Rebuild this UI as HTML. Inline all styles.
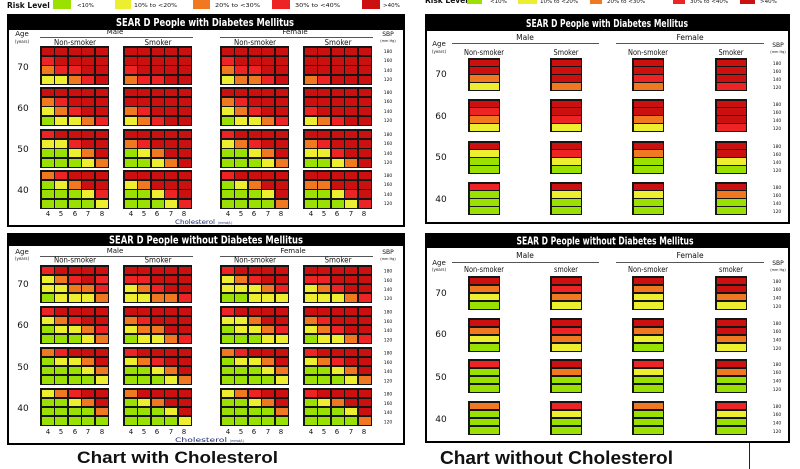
<!DOCTYPE html>
<html><head><meta charset="utf-8"><style>
html,body{margin:0;padding:0;background:#fff}
body{width:800px;height:469px;position:relative;overflow:hidden}
svg{position:absolute;left:0;top:0}
svg text{font-family:"DejaVu Sans","Liberation Sans",sans-serif;fill:#111}
.b{position:absolute;background:#151515;display:grid;gap:1.5px;padding:1.5px;box-sizing:border-box}
.c{grid-template-columns:repeat(5,1fr);grid-template-rows:repeat(4,1fr);width:69px}
.t{height:39px}.u{height:38px}
.s{grid-template-columns:1fr;grid-template-rows:repeat(4,1fr);width:32px}
.v{height:33px}.w{height:34px}
.b>*{display:block;margin:0;padding:0;text-decoration:none}
.b i{background:#cc1010}.b b{background:#ee2424}.b s{background:#f07820}.b u{background:#eeee30}.b a{background:#9ae000}
</style></head><body>
<svg width="800" height="469" viewBox="0 0 800 469" xmlns="http://www.w3.org/2000/svg">
<!-- legend left -->
<text x="7" y="8" font-size="7.5" font-weight="bold">Risk Level</text>
<rect x="53" y="0" width="18" height="9" fill="#9ae000"/>
<text x="77" y="7" font-size="5.5">&lt;10%</text>
<rect x="115" y="0" width="16" height="9" fill="#eeee30"/>
<text x="134" y="7" font-size="5.5" textLength="43" lengthAdjust="spacingAndGlyphs">10% to &lt;20%</text>
<rect x="193" y="0" width="17" height="9" fill="#f07820"/>
<text x="215" y="7" font-size="5.5" textLength="45" lengthAdjust="spacingAndGlyphs">20% to &lt;30%</text>
<rect x="272" y="0" width="18" height="9" fill="#ee2424"/>
<text x="295" y="7" font-size="5.5" textLength="45" lengthAdjust="spacingAndGlyphs">30% to &lt;40%</text>
<rect x="362" y="0" width="18" height="9" fill="#cc1010"/>
<text x="383" y="7" font-size="5.5">&gt;40%</text>
<!-- legend right (cut) -->
<text x="425" y="3" font-size="7.5" font-weight="bold">Risk Level</text>
<rect x="467" y="0" width="15" height="4" fill="#9ae000"/>
<text x="490" y="3" font-size="5.5">&lt;10%</text>
<rect x="518" y="0" width="19" height="4" fill="#eeee30"/>
<text x="540" y="3" font-size="5.5">10% to &lt;20%</text>
<rect x="590" y="0" width="12" height="4" fill="#f07820"/>
<text x="607" y="3" font-size="5.5">20% to &lt;30%</text>
<rect x="673" y="0" width="12" height="4" fill="#ee2424"/>
<text x="690" y="3" font-size="5.5">30% to &lt;40%</text>
<rect x="740" y="0" width="15" height="4" fill="#cc1010"/>
<text x="760" y="3" font-size="5.5">&gt;40%</text>

<!-- TOP LEFT PANEL -->
<rect x="8" y="15" width="396" height="211" fill="none" stroke="#000" stroke-width="2"/>
<rect x="7" y="14" width="398" height="16" fill="#000"/>
<text x="205" y="26" text-anchor="middle" font-size="11" font-weight="bold" style="fill:#fff" textLength="178" lengthAdjust="spacingAndGlyphs">SEAR D People with Diabetes Mellitus</text>
<text x="22" y="36" text-anchor="middle" font-size="7">Age</text>
<text x="22" y="43" text-anchor="middle" font-size="4">(years)</text>
<text x="115" y="34" text-anchor="middle" font-size="7">Male</text>
<line x1="40" y1="37.5" x2="193" y2="37.5" stroke="#555" stroke-width="1"/>
<text x="295" y="34" text-anchor="middle" font-size="7">Female</text>
<line x1="220" y1="37.5" x2="373" y2="37.5" stroke="#555" stroke-width="1"/>
<text x="75" y="45" text-anchor="middle" font-size="8" textLength="42" lengthAdjust="spacingAndGlyphs">Non-smoker</text>
<text x="158" y="45" text-anchor="middle" font-size="8" textLength="27" lengthAdjust="spacingAndGlyphs">Smoker</text>
<text x="255" y="45" text-anchor="middle" font-size="8" textLength="42" lengthAdjust="spacingAndGlyphs">Non-smoker</text>
<text x="338" y="45" text-anchor="middle" font-size="8" textLength="27" lengthAdjust="spacingAndGlyphs">Smoker</text>
<text x="388" y="36" text-anchor="middle" font-size="6">SBP</text>
<text x="388" y="42" text-anchor="middle" font-size="3.5">(mm Hg)</text>
<text x="23" y="70" text-anchor="middle" font-size="9">70</text>
<text x="23" y="111" text-anchor="middle" font-size="9">60</text>
<text x="23" y="152" text-anchor="middle" font-size="9">50</text>
<text x="23" y="193" text-anchor="middle" font-size="9">40</text>
<text font-size="4.5" text-anchor="middle"><tspan x="388" y="53">180</tspan><tspan x="388" y="62">160</tspan><tspan x="388" y="72">140</tspan><tspan x="388" y="81">120</tspan><tspan x="388" y="94">180</tspan><tspan x="388" y="103">160</tspan><tspan x="388" y="113">140</tspan><tspan x="388" y="122">120</tspan><tspan x="388" y="136">180</tspan><tspan x="388" y="145">160</tspan><tspan x="388" y="155">140</tspan><tspan x="388" y="164">120</tspan><tspan x="388" y="177">180</tspan><tspan x="388" y="186">160</tspan><tspan x="388" y="196">140</tspan><tspan x="388" y="205">120</tspan></text>
<text y="216" font-size="7" text-anchor="middle" x="48 61 75 88 102">45678</text>
<text y="216" font-size="7" text-anchor="middle" x="131 144 157 171 184">45678</text>
<text y="216" font-size="7" text-anchor="middle" x="228 241 254 268 281">45678</text>
<text y="216" font-size="7" text-anchor="middle" x="311 324 337 351 364">45678</text>
<text x="175" y="224" font-size="6.5" style="fill:#1c2a6e" textLength="40" lengthAdjust="spacingAndGlyphs">Cholesterol</text>
<text x="218" y="224" font-size="3.2" style="fill:#1c2a6e">(mmol/L)</text>

<!-- BOTTOM LEFT PANEL -->
<rect x="8" y="234" width="396" height="210" fill="none" stroke="#000" stroke-width="2"/>
<rect x="7" y="233" width="398" height="13" fill="#000"/>
<text x="206" y="243.5" text-anchor="middle" font-size="10.5" font-weight="bold" style="fill:#fff" textLength="194" lengthAdjust="spacingAndGlyphs">SEAR D People without Diabetes Mellitus</text>
<text x="22" y="254" text-anchor="middle" font-size="7">Age</text>
<text x="22" y="260" text-anchor="middle" font-size="4">(years)</text>
<text x="115" y="253" text-anchor="middle" font-size="7">Male</text>
<line x1="40" y1="256.5" x2="193" y2="256.5" stroke="#555" stroke-width="1"/>
<text x="293" y="253" text-anchor="middle" font-size="7">Female</text>
<line x1="220" y1="256.5" x2="373" y2="256.5" stroke="#555" stroke-width="1"/>
<text x="75" y="262.5" text-anchor="middle" font-size="8" textLength="42" lengthAdjust="spacingAndGlyphs">Non-smoker</text>
<text x="158" y="262.5" text-anchor="middle" font-size="8" textLength="27" lengthAdjust="spacingAndGlyphs">Smoker</text>
<text x="255" y="262.5" text-anchor="middle" font-size="8" textLength="42" lengthAdjust="spacingAndGlyphs">Non-smoker</text>
<text x="338" y="262.5" text-anchor="middle" font-size="8" textLength="27" lengthAdjust="spacingAndGlyphs">Smoker</text>
<text x="388" y="254" text-anchor="middle" font-size="6">SBP</text>
<text x="388" y="260" text-anchor="middle" font-size="3.5">(mm Hg)</text>
<text x="23" y="287" text-anchor="middle" font-size="9">70</text>
<text x="23" y="328" text-anchor="middle" font-size="9">60</text>
<text x="23" y="370" text-anchor="middle" font-size="9">50</text>
<text x="23" y="411" text-anchor="middle" font-size="9">40</text>
<text font-size="4.5" text-anchor="middle"><tspan x="388" y="272.5">180</tspan><tspan x="388" y="282">160</tspan><tspan x="388" y="291">140</tspan><tspan x="388" y="300">120</tspan><tspan x="388" y="313.5">180</tspan><tspan x="388" y="323">160</tspan><tspan x="388" y="332">140</tspan><tspan x="388" y="341.5">120</tspan><tspan x="388" y="354.5">180</tspan><tspan x="388" y="364">160</tspan><tspan x="388" y="373">140</tspan><tspan x="388" y="382.5">120</tspan><tspan x="388" y="395.5">180</tspan><tspan x="388" y="405">160</tspan><tspan x="388" y="414">140</tspan><tspan x="388" y="423.5">120</tspan></text>
<text y="434" font-size="7" text-anchor="middle" x="48 61 75 88 102">45678</text>
<text y="434" font-size="7" text-anchor="middle" x="131 144 157 171 184">45678</text>
<text y="434" font-size="7" text-anchor="middle" x="228 241 254 268 281">45678</text>
<text y="434" font-size="7" text-anchor="middle" x="311 324 337 351 364">45678</text>
<text x="175" y="442" font-size="6.5" style="fill:#1c2a6e" textLength="52" lengthAdjust="spacingAndGlyphs">Cholesterol</text>
<text x="230" y="442" font-size="3.2" style="fill:#1c2a6e">(mmol/L)</text>

<!-- TOP RIGHT PANEL -->
<rect x="426" y="15" width="363" height="208" fill="none" stroke="#000" stroke-width="2"/>
<rect x="425" y="14" width="365" height="17" fill="#000"/>
<text x="607" y="27" text-anchor="middle" font-size="11" font-weight="bold" style="fill:#fff" textLength="162" lengthAdjust="spacingAndGlyphs">SEAR D People with Diabetes Mellitus</text>
<text x="439" y="46" text-anchor="middle" font-size="7">Age</text>
<text x="439" y="53" text-anchor="middle" font-size="4">(years)</text>
<text x="525" y="40" text-anchor="middle" font-size="7.5">Male</text>
<line x1="452" y1="43.5" x2="599" y2="43.5" stroke="#555" stroke-width="1"/>
<text x="690" y="40" text-anchor="middle" font-size="7.5">Female</text>
<line x1="616" y1="43.5" x2="764" y2="43.5" stroke="#555" stroke-width="1"/>
<text x="484" y="55" text-anchor="middle" font-size="8" textLength="40" lengthAdjust="spacingAndGlyphs">Non-smoker</text>
<text x="566" y="55" text-anchor="middle" font-size="8" textLength="25" lengthAdjust="spacingAndGlyphs">Smoker</text>
<text x="648" y="55" text-anchor="middle" font-size="8" textLength="40" lengthAdjust="spacingAndGlyphs">Non-smoker</text>
<text x="731" y="55" text-anchor="middle" font-size="8" textLength="25" lengthAdjust="spacingAndGlyphs">Smoker</text>
<text x="778" y="47" text-anchor="middle" font-size="6">SBP</text>
<text x="778" y="53" text-anchor="middle" font-size="3.5">(mm Hg)</text>
<text x="441" y="77" text-anchor="middle" font-size="9">70</text>
<text x="441" y="119" text-anchor="middle" font-size="9">60</text>
<text x="441" y="160" text-anchor="middle" font-size="9">50</text>
<text x="441" y="202" text-anchor="middle" font-size="9">40</text>
<text font-size="4.5" text-anchor="middle"><tspan x="777" y="65">180</tspan><tspan x="777" y="73">160</tspan><tspan x="777" y="81">140</tspan><tspan x="777" y="89">120</tspan><tspan x="777" y="106">180</tspan><tspan x="777" y="114">160</tspan><tspan x="777" y="122">140</tspan><tspan x="777" y="130">120</tspan><tspan x="777" y="148">180</tspan><tspan x="777" y="156">160</tspan><tspan x="777" y="164">140</tspan><tspan x="777" y="172">120</tspan><tspan x="777" y="189">180</tspan><tspan x="777" y="197">160</tspan><tspan x="777" y="205">140</tspan><tspan x="777" y="213">120</tspan></text>

<!-- BOTTOM RIGHT PANEL -->
<rect x="426" y="234" width="363" height="208" fill="none" stroke="#000" stroke-width="2"/>
<rect x="425" y="233" width="365" height="15" fill="#000"/>
<text x="605" y="244.5" text-anchor="middle" font-size="10.5" font-weight="bold" style="fill:#fff" textLength="177" lengthAdjust="spacingAndGlyphs">SEAR D People without Diabetes Mellitus</text>
<text x="439" y="265" text-anchor="middle" font-size="7">Age</text>
<text x="439" y="271" text-anchor="middle" font-size="4">(years)</text>
<text x="525" y="258" text-anchor="middle" font-size="7.5">Male</text>
<line x1="452" y1="262.5" x2="599" y2="262.5" stroke="#555" stroke-width="1"/>
<text x="690" y="258" text-anchor="middle" font-size="7.5">Female</text>
<line x1="616" y1="262.5" x2="764" y2="262.5" stroke="#555" stroke-width="1"/>
<text x="484" y="272" text-anchor="middle" font-size="8" textLength="40" lengthAdjust="spacingAndGlyphs">Non-smoker</text>
<text x="566" y="272" text-anchor="middle" font-size="8" textLength="24" lengthAdjust="spacingAndGlyphs">smoker</text>
<text x="648" y="272" text-anchor="middle" font-size="8" textLength="40" lengthAdjust="spacingAndGlyphs">Non-smoker</text>
<text x="731" y="272" text-anchor="middle" font-size="8" textLength="24" lengthAdjust="spacingAndGlyphs">smoker</text>
<text x="778" y="265" text-anchor="middle" font-size="6">SBP</text>
<text x="778" y="271" text-anchor="middle" font-size="3.5">(mm Hg)</text>
<text x="441" y="296" text-anchor="middle" font-size="9">70</text>
<text x="441" y="337" text-anchor="middle" font-size="9">60</text>
<text x="441" y="380" text-anchor="middle" font-size="9">50</text>
<text x="441" y="422" text-anchor="middle" font-size="9">40</text>
<text font-size="4.5" text-anchor="middle"><tspan x="777" y="283">180</tspan><tspan x="777" y="291">160</tspan><tspan x="777" y="299.5">140</tspan><tspan x="777" y="308">120</tspan><tspan x="777" y="325">180</tspan><tspan x="777" y="333">160</tspan><tspan x="777" y="341.5">140</tspan><tspan x="777" y="350">120</tspan><tspan x="777" y="366">180</tspan><tspan x="777" y="374">160</tspan><tspan x="777" y="382.5">140</tspan><tspan x="777" y="391">120</tspan><tspan x="777" y="408">180</tspan><tspan x="777" y="416">160</tspan><tspan x="777" y="424.5">140</tspan><tspan x="777" y="433">120</tspan></text>

<!-- captions -->
<text x="77" y="463" font-size="17" font-weight="bold" style="font-family:'Liberation Sans',Arial,sans-serif;fill:#111" textLength="201" lengthAdjust="spacingAndGlyphs">Chart with Cholesterol</text>
<text x="440" y="464" font-size="18" font-weight="bold" style="font-family:'Liberation Sans',Arial,sans-serif;fill:#111" textLength="233" lengthAdjust="spacingAndGlyphs">Chart without Cholesterol</text>
<line x1="749.5" y1="443" x2="749.5" y2="469" stroke="#222" stroke-width="1"/>
</svg>

<!-- TOP LEFT BLOCKS (with diabetes) -->
<div class="b c t" style="left:40px;top:46px"><i></i><i></i><i></i><i></i><i></i><b></b><i></i><i></i><i></i><i></i><s></s><b></b><b></b><i></i><i></i><u></u><u></u><s></s><b></b><i></i></div>
<div class="b c t" style="left:123px;top:46px"><i></i><i></i><i></i><i></i><i></i><i></i><i></i><i></i><i></i><i></i><b></b><i></i><i></i><i></i><i></i><s></s><b></b><b></b><i></i><i></i></div>
<div class="b c t" style="left:220px;top:46px"><i></i><i></i><i></i><i></i><i></i><b></b><i></i><i></i><i></i><i></i><s></s><b></b><b></b><i></i><i></i><u></u><s></s><s></s><b></b><i></i></div>
<div class="b c t" style="left:303px;top:46px"><i></i><i></i><i></i><i></i><i></i><i></i><i></i><i></i><i></i><i></i><i></i><i></i><i></i><i></i><i></i><s></s><b></b><i></i><i></i><i></i></div>
<div class="b c t" style="left:40px;top:87px"><i></i><i></i><i></i><i></i><i></i><s></s><b></b><i></i><i></i><i></i><u></u><s></s><b></b><i></i><i></i><a></a><u></u><u></u><s></s><b></b></div>
<div class="b c t" style="left:123px;top:87px"><i></i><i></i><i></i><i></i><i></i><i></i><i></i><i></i><i></i><i></i><s></s><b></b><i></i><i></i><i></i><u></u><s></s><b></b><i></i><i></i></div>
<div class="b c t" style="left:220px;top:87px"><i></i><i></i><i></i><i></i><i></i><s></s><b></b><i></i><i></i><i></i><u></u><s></s><b></b><i></i><i></i><a></a><u></u><u></u><s></s><b></b></div>
<div class="b c t" style="left:303px;top:87px"><i></i><i></i><i></i><i></i><i></i><i></i><i></i><i></i><i></i><i></i><b></b><i></i><i></i><i></i><i></i><u></u><s></s><b></b><i></i><i></i></div>
<div class="b c t" style="left:40px;top:129px"><b></b><i></i><i></i><i></i><i></i><u></u><u></u><b></b><i></i><i></i><a></a><a></a><u></u><s></s><i></i><a></a><a></a><a></a><u></u><s></s></div>
<div class="b c t" style="left:123px;top:129px"><i></i><i></i><i></i><i></i><i></i><s></s><b></b><i></i><i></i><i></i><a></a><u></u><s></s><i></i><i></i><a></a><a></a><u></u><s></s><i></i></div>
<div class="b c t" style="left:220px;top:129px"><b></b><i></i><i></i><i></i><i></i><u></u><s></s><b></b><i></i><i></i><a></a><a></a><u></u><s></s><i></i><a></a><a></a><a></a><u></u><s></s></div>
<div class="b c t" style="left:303px;top:129px"><i></i><i></i><i></i><i></i><i></i><s></s><b></b><i></i><i></i><i></i><u></u><u></u><b></b><i></i><i></i><a></a><a></a><u></u><s></s><i></i></div>
<div class="b c t" style="left:40px;top:170px"><s></s><b></b><i></i><i></i><i></i><a></a><u></u><s></s><i></i><i></i><a></a><a></a><a></a><u></u><b></b><a></a><a></a><a></a><a></a><u></u></div>
<div class="b c t" style="left:123px;top:170px"><i></i><i></i><i></i><i></i><i></i><u></u><s></s><i></i><i></i><i></i><a></a><a></a><u></u><b></b><i></i><a></a><a></a><a></a><u></u><b></b></div>
<div class="b c t" style="left:220px;top:170px"><b></b><i></i><i></i><i></i><i></i><a></a><u></u><s></s><i></i><i></i><a></a><a></a><a></a><u></u><i></i><a></a><a></a><a></a><a></a><s></s></div>
<div class="b c t" style="left:303px;top:170px"><i></i><i></i><i></i><i></i><i></i><s></s><s></s><i></i><i></i><i></i><a></a><a></a><u></u><b></b><i></i><a></a><a></a><a></a><u></u><b></b></div>

<!-- BOTTOM LEFT BLOCKS (without diabetes) -->
<div class="b c u" style="left:40px;top:265px"><b></b><i></i><i></i><i></i><i></i><u></u><s></s><b></b><i></i><b></b><u></u><u></u><s></s><s></s><b></b><a></a><u></u><u></u><u></u><s></s></div>
<div class="b c u" style="left:123px;top:265px"><i></i><i></i><i></i><i></i><i></i><b></b><b></b><i></i><i></i><i></i><u></u><s></s><b></b><i></i><i></i><u></u><u></u><s></s><s></s><b></b></div>
<div class="b c u" style="left:220px;top:265px"><b></b><i></i><i></i><i></i><i></i><u></u><s></s><b></b><i></i><i></i><u></u><u></u><u></u><s></s><b></b><a></a><a></a><u></u><u></u><u></u></div>
<div class="b c u" style="left:303px;top:265px"><i></i><i></i><i></i><i></i><i></i><b></b><b></b><i></i><i></i><i></i><u></u><s></s><b></b><i></i><i></i><u></u><u></u><u></u><s></s><b></b></div>
<div class="b c u" style="left:40px;top:306px"><b></b><i></i><i></i><i></i><i></i><u></u><s></s><b></b><i></i><i></i><a></a><u></u><u></u><s></s><b></b><a></a><a></a><a></a><u></u><s></s></div>
<div class="b c u" style="left:123px;top:306px"><i></i><i></i><i></i><i></i><i></i><s></s><b></b><i></i><i></i><i></i><u></u><s></s><s></s><i></i><i></i><a></a><u></u><u></u><s></s><b></b></div>
<div class="b c u" style="left:220px;top:306px"><b></b><i></i><i></i><i></i><i></i><u></u><u></u><s></s><i></i><i></i><a></a><u></u><u></u><s></s><b></b><a></a><a></a><a></a><u></u><u></u></div>
<div class="b c u" style="left:303px;top:306px"><i></i><i></i><i></i><i></i><i></i><s></s><b></b><i></i><i></i><i></i><u></u><s></s><b></b><i></i><i></i><a></a><u></u><u></u><s></s><b></b></div>
<div class="b c u" style="left:40px;top:347px"><s></s><b></b><i></i><i></i><i></i><a></a><u></u><u></u><s></s><i></i><a></a><a></a><a></a><u></u><s></s><a></a><a></a><a></a><a></a><u></u></div>
<div class="b c u" style="left:123px;top:347px"><b></b><i></i><i></i><i></i><i></i><u></u><s></s><b></b><i></i><i></i><a></a><a></a><u></u><s></s><i></i><a></a><a></a><a></a><u></u><s></s></div>
<div class="b c u" style="left:220px;top:347px"><s></s><b></b><i></i><i></i><i></i><a></a><u></u><u></u><s></s><i></i><a></a><a></a><a></a><u></u><s></s><a></a><a></a><a></a><a></a><u></u></div>
<div class="b c u" style="left:303px;top:347px"><b></b><i></i><i></i><i></i><i></i><u></u><s></s><b></b><i></i><i></i><a></a><a></a><u></u><s></s><i></i><a></a><a></a><a></a><u></u><s></s></div>
<div class="b c u" style="left:40px;top:388px"><u></u><s></s><b></b><i></i><i></i><a></a><a></a><u></u><s></s><i></i><a></a><a></a><a></a><a></a><s></s><a></a><a></a><a></a><a></a><a></a></div>
<div class="b c u" style="left:123px;top:388px"><s></s><i></i><i></i><i></i><i></i><a></a><u></u><s></s><i></i><i></i><a></a><a></a><a></a><u></u><i></i><a></a><a></a><a></a><a></a><u></u></div>
<div class="b c u" style="left:220px;top:388px"><u></u><s></s><b></b><i></i><i></i><a></a><a></a><u></u><s></s><i></i><a></a><a></a><a></a><a></a><s></s><a></a><a></a><a></a><a></a><a></a></div>
<div class="b c u" style="left:303px;top:388px"><b></b><i></i><i></i><i></i><i></i><a></a><u></u><s></s><i></i><i></i><a></a><a></a><a></a><u></u><i></i><a></a><a></a><a></a><a></a><s></s></div>

<!-- TOP RIGHT BLOCKS -->
<div class="b s v" style="left:468px;top:58px"><i></i><i></i><s></s><u></u></div>
<div class="b s v" style="left:550px;top:58px"><i></i><i></i><i></i><s></s></div>
<div class="b s v" style="left:632px;top:58px"><i></i><i></i><b></b><s></s></div>
<div class="b s v" style="left:715px;top:58px"><i></i><i></i><i></i><b></b></div>
<div class="b s v" style="left:468px;top:99px"><i></i><b></b><s></s><u></u></div>
<div class="b s v" style="left:550px;top:99px"><i></i><i></i><b></b><u></u></div>
<div class="b s v" style="left:632px;top:99px"><i></i><i></i><s></s><u></u></div>
<div class="b s v" style="left:715px;top:99px"><i></i><i></i><i></i><b></b></div>
<div class="b s v" style="left:468px;top:141px"><i></i><u></u><a></a><a></a></div>
<div class="b s v" style="left:550px;top:141px"><i></i><b></b><u></u><a></a></div>
<div class="b s v" style="left:632px;top:141px"><i></i><s></s><a></a><a></a></div>
<div class="b s v" style="left:715px;top:141px"><i></i><i></i><u></u><a></a></div>
<div class="b s v" style="left:468px;top:182px"><b></b><a></a><a></a><a></a></div>
<div class="b s v" style="left:550px;top:182px"><i></i><u></u><a></a><a></a></div>
<div class="b s v" style="left:632px;top:182px"><i></i><u></u><a></a><a></a></div>
<div class="b s v" style="left:715px;top:182px"><i></i><s></s><a></a><a></a></div>

<!-- BOTTOM RIGHT BLOCKS -->
<div class="b s w" style="left:468px;top:276px"><i></i><s></s><u></u><a></a></div>
<div class="b s w" style="left:550px;top:276px"><i></i><b></b><s></s><u></u></div>
<div class="b s w" style="left:632px;top:276px"><i></i><s></s><u></u><u></u></div>
<div class="b s w" style="left:715px;top:276px"><i></i><i></i><s></s><u></u></div>
<div class="b s w" style="left:468px;top:318px"><i></i><s></s><u></u><a></a></div>
<div class="b s w" style="left:550px;top:318px"><i></i><b></b><s></s><u></u></div>
<div class="b s w" style="left:632px;top:318px"><i></i><s></s><u></u><a></a></div>
<div class="b s w" style="left:715px;top:318px"><i></i><i></i><s></s><u></u></div>
<div class="b s w" style="left:468px;top:359px"><b></b><a></a><a></a><a></a></div>
<div class="b s w" style="left:550px;top:359px"><i></i><s></s><a></a><a></a></div>
<div class="b s w" style="left:632px;top:359px"><b></b><u></u><a></a><a></a></div>
<div class="b s w" style="left:715px;top:359px"><i></i><s></s><a></a><a></a></div>
<div class="b s w" style="left:468px;top:401px"><s></s><a></a><a></a><a></a></div>
<div class="b s w" style="left:550px;top:401px"><b></b><u></u><a></a><a></a></div>
<div class="b s w" style="left:632px;top:401px"><s></s><a></a><a></a><a></a></div>
<div class="b s w" style="left:715px;top:401px"><b></b><u></u><a></a><a></a></div>
</body></html>
